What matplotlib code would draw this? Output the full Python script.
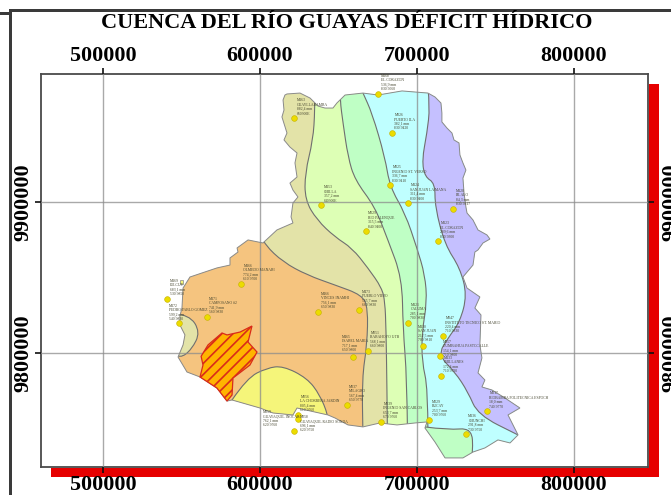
import numpy as np
from matplotlib import pyplot as plt
from matplotlib.patches import Polygon, Rectangle, PathPatch
from matplotlib.path import Path

## All map values are UTM km (easting, northing)

xtick_values = [500, 600, 700, 800]
ytick_values = [9800, 9900]

basin_e = [617.2, 625.5, 631.9, 637, 641.4, 646.5, 649, 654.2, 665.6, 675.2, 690.5, 707, 711.5, 715.3, 715.9, 715.9, 719.1, 722.3, 723.6, 726.8, 727.4, 729.3, 731.2, 729.3, 730, 731.2, 731.9, 735.7, 738.9, 744.6, 746.5, 742.1, 738.9, 736.9, 735.7, 729.3, 731.9, 740.1, 736.9, 740.8, 740.1, 741.4, 738.9, 743.3, 741.4, 747.8, 756.1, 765.6, 758, 764.4, 759.3, 751.6, 743.3, 735.7, 729.3, 717.9, 711.5, 705.1, 706.4, 698.7, 687.3, 676.4, 665.6, 656.1, 647.8, 643.3, 623.6, 621, 608.3, 600, 582.2, 579, 572.6, 561.8, 553.5, 547.8, 551, 552.2, 549, 549, 550.3, 551, 555.4, 572.6, 580.9, 580.9, 586, 585.4, 592.4, 601.9, 610.8, 621, 619.8, 621, 624.2, 621, 619.1, 623.6, 622.3, 623.6, 619.1, 615.3, 617.2, 614, 615.3, 614.7, 615.9]
basin_n = [9971.4, 9972, 9968.7, 9963.4, 9962.1, 9962.1, 9965.4, 9970.7, 9972, 9970.7, 9973.4, 9972, 9969.4, 9965.4, 9958.8, 9952.9, 9948.9, 9945.6, 9941, 9939, 9931, 9925.8, 9921.1, 9915.8, 9905.9, 9896.7, 9892.7, 9888.1, 9881.5, 9878.2, 9875.5, 9872.9, 9868.3, 9866.9, 9858.3, 9850.4, 9843.1, 9837.2, 9829.9, 9825.3, 9805.5, 9796.9, 9787, 9782.3, 9777.7, 9775.7, 9770.4, 9763.8, 9759.2, 9746, 9740.7, 9742.7, 9737.4, 9734.7, 9730.8, 9730.8, 9741.3, 9750.6, 9754.6, 9753.9, 9752.6, 9753.9, 9751.3, 9752.6, 9757.2, 9759.2, 9763.8, 9759.2, 9760.5, 9763.8, 9769.1, 9768.4, 9777, 9784.3, 9787.6, 9797.5, 9805.5, 9812.1, 9818.7, 9824.6, 9829.9, 9843.1, 9850.4, 9856.4, 9858.3, 9863, 9866.9, 9869.6, 9874.9, 9872.9, 9881.5, 9886.1, 9890.1, 9899.3, 9903.3, 9907.9, 9912.5, 9916.5, 9925.8, 9932.4, 9936.3, 9941, 9945.6, 9956.2, 9960.8, 9967.4, 9970.7]

# isolines between the deficit zones, north to south
line_a_e = [635, 635, 633.8, 628.7, 628.7, 636.3, 647.8, 658.6, 668.8, 677.7, 679.6, 680.3, 680.9, 681.5]
line_a_n = [9975, 9960.8, 9941, 9919.1, 9901.3, 9888.1, 9876.8, 9869.6, 9856.4, 9843.1, 9833.9, 9816.7, 9777, 9715]
line_b_e = [651, 651, 652.9, 656.1, 660.5, 673.3, 681.5, 690.5, 691.1, 693.6, 694.3]
line_b_n = [9975, 9967.4, 9952.2, 9929.7, 9914.5, 9896.7, 9874.9, 9849.7, 9816.7, 9783.6, 9715]
line_c_e = [664.3, 665.6, 671.4, 679.6, 682.8, 692.4, 700, 705.1, 706.4, 703.2, 703.2, 707, 707]
line_c_n = [9975.3, 9972, 9958.8, 9929.7, 9909.9, 9892.7, 9869.6, 9851.7, 9833.9, 9814, 9794.2, 9777, 9715]
line_d_e = [707, 708.3, 706.4, 703.2, 705.1, 711.5, 711.5, 717.9, 727.4, 731.9, 727.4, 719.8, 713.4, 724.2, 732.5, 738.9, 764.4, 772]
line_d_n = [9975.3, 9962.8, 9945.6, 9927.7, 9916.5, 9912.5, 9896.7, 9871.6, 9856.4, 9838.5, 9820.7, 9810.1, 9798.9, 9787.6, 9774.4, 9759.2, 9746, 9742]

orange_e = [601.3, 603.2, 614.7, 630, 647.8, 665, 668.8, 668.2, 665, 665.6, 470, 470]
orange_n = [9876.2, 9871.6, 9860.3, 9851.7, 9845.1, 9838.5, 9829.9, 9805.5, 9783.6, 9746, 9746, 9876]
yellow_e = [582.2, 591.7, 604.5, 614.7, 630, 638.2, 643.3, 644.6, 580.9]
yellow_n = [9769.1, 9783.6, 9790.3, 9791.6, 9783.6, 9772.4, 9759.2, 9749.3, 9749.3]
west_e = [544.6, 555, 562, 556.5, 549, 542.7]
west_n = [9826.5, 9825.5, 9814, 9802.5, 9796.5, 9802.1]
south_e = [705.1, 719.8, 735, 735.7, 733.8, 702]
south_n = [9751.3, 9749.3, 9750.6, 9734.7, 9722.8, 9722.8]
islet_e = [549, 550.9, 550.9, 549]
islet_n = [9848.4, 9848.4, 9845.8, 9845.8]
guayaquil_e = [594.9, 592.4, 598.1, 593.6, 582.8, 582.2, 579, 572.6, 561.8, 563.7, 562.5, 566.9, 575.8, 579, 587.3]
guayaquil_n = [9818, 9807.4, 9800.8, 9792.2, 9783.6, 9772.4, 9768.4, 9777, 9784.3, 9792.2, 9798, 9805.5, 9813.4, 9812.1, 9814]

station_e = [621.7, 638.9, 675.2, 684.1, 682.8, 694.3, 723, 667.5, 713.4, 587.9, 540.8, 566.2, 548.4, 637, 624.2, 624.2, 621.7, 663.1, 694.3, 716.6, 703.8, 714.7, 668.8, 659.3, 715.3, 655.4, 744.6, 707.7, 677.1, 731.2]
station_n = [9955.5, 9898, 9971.4, 9945.6, 9911.2, 9899.3, 9895.4, 9880.8, 9874.2, 9845.8, 9835.9, 9824, 9820, 9827.3, 9759.2, 9756.5, 9748.6, 9828.6, 9820, 9811.4, 9804.8, 9798.2, 9801.5, 9797.5, 9785, 9765.8, 9761.8, 9755.9, 9754.6, 9746.6]
station_code = ['M163', 'M153', 'M168', 'M026', 'M025', 'M124', 'M120', 'M029', 'M123', 'M166', 'M169', 'M171', 'M172', 'M466', 'M056', 'M059', 'M058', 'M473', 'M121', 'M047', 'M130', 'M057', 'M051', 'M465', 'M133', 'M037', 'M217', 'M229', 'M039', 'M136']
station_name = ['GUAYLLABAMBA', 'CHILLA', 'EL CORAZON', 'PUERTO ILA', 'INGENIO ST. VERSO', 'SAN JUAN LA MANA', 'PILALO', 'RIO PALENQUE', 'EL CORAZON', 'OLMEDO MANABI', 'JULCUY', 'CAMPOSANO #2', 'PEDRO PABLO GOMEZ', 'VINCES INAMHI', 'LA CHORRERA JARDIN', 'GUAYAQUIL INOCAR', 'GUAYAQUIL RADIO SONDA', 'PUEBLO VIEJO', 'CALUMA', 'INSTITUTO TECNICO ST. MARIO', 'SAN JUAN', 'ZUMBAHUA PASTOCALLE', 'BABAHOYO UTB', 'ISABEL MARIA', 'CHILLANES', 'MILAGRO', 'RIOBAMBA POLITECNICA ESPOCH', 'BUCAY', 'INGENIO SAN CARLOS', 'CHUNCHI']
station_mm = ['882,4', '357,2', '536,9', '382,1', '336,7', '311,4', '84,3', '315,5', '289,6', '774,2', '683,1', '741,9', '599,2', '756,1', '805,4', '762,1', '696,1', '565,7', '285,1', '220,4', '212,5', '154,1', '568,1', '717,1', '172,4', '567,4', '18,0', '253,7', '653,7', '291,8']
station_utm = ['660300E', '640300E', '830 9560', '830 9420', '830 9410', '830 9400', '830 9317', '840 9400', '830 9300', '610 9700', '530 9850', '560 9830', '540 9830', '650 9830', '610 9760', '620 9760', '620 9750', '660 9830', '700 9830', '710 9830', '700 9810', '710 9800', '660 9800', '650 9800', '710 9790', '650 9770', '740 9770', '700 9760', '670 9760', '730 9750']

# stations whose label does not sit up and right of the dot
label_shift = {12: (-10, 2), 15: (-35, -8), 16: (6, -1), 20: (-5, 4), 23: (-11, 5), 21: (3, -1)}

frame_labels = ['572000', '648000', '724000']

PX = 72 / 100  # one pixel in points at this dpi

plt.rcParams['font.family'] = ['Liberation Serif', 'DejaVu Serif']
plt.rcParams['hatch.linewidth'] = 1.2

fig = plt.figure(figsize=(6.71, 4.95), dpi=100, facecolor='white')

## Page furniture in pixel coordinates
bg = fig.add_axes([0, 0, 1, 1])
bg.set_xlim(0, 671)
bg.set_ylim(495, 0)
bg.axis('off')
bg.add_patch(Rectangle((8.5, 8.5), 663, 3.5, color='#3a3a3a', lw=0))
bg.add_patch(Rectangle((8.5, 8.5), 3.5, 487, color='#3a3a3a', lw=0))
bg.add_patch(Rectangle((0, 12), 8.5, 3, color='#3a3a3a', lw=0))
bg.add_patch(Rectangle((51, 468), 608, 9, color='#e60000', lw=0))
bg.add_patch(Rectangle((648.5, 84), 10, 393, color='#e60000', lw=0))
for x, txt in zip([164, 356, 549], frame_labels):
    bg.text(x, 2.5, txt, ha='center', va='bottom', fontsize=9, color='#333333', fontweight='bold')
bg.text(347, 23.5, 'CUENCA DEL RÍO GUAYAS DÉFICIT HÍDRICO', ha='center', va='center', fontsize=16, fontweight='bold', color='black')

## Map frame
ax = fig.add_axes([41 / 671, (495 - 467) / 495, 607 / 671, 393 / 495])
ax.set_xlim(460.5, 847.2)
ax.set_ylim(9724.8, 9984.6)

basin = Polygon(np.column_stack([basin_e, basin_n]), closed=True, facecolor='#e3e3a8', edgecolor='none', zorder=1)
ax.add_patch(basin)

def rounded_path(line_e, line_n, extra=()):
    # quadratic curve through the read points, straight on to the extra corners
    pts = list(zip(line_e, line_n))
    verts = [pts[0]]
    codes = [Path.MOVETO]
    for i in range(1, len(pts) - 1):
        mid = ((pts[i][0] + pts[i + 1][0]) / 2, (pts[i][1] + pts[i + 1][1]) / 2)
        verts += [pts[i], mid]
        codes += [Path.CURVE3, Path.CURVE3]
    verts.append(pts[-1])
    codes.append(Path.LINETO)
    for c in extra:
        verts.append(c)
        codes.append(Path.LINETO)
    verts.append(pts[0])
    codes.append(Path.CLOSEPOLY)
    return Path(verts, codes)

zones = [
    (rounded_path(line_a_e, line_a_n, [(900, line_a_n[-1]), (900, line_a_n[0])]), '#ddffb5'),
    (rounded_path(line_b_e, line_b_n, [(900, line_b_n[-1]), (900, line_b_n[0])]), '#bfffc5'),
    (rounded_path(line_c_e, line_c_n, [(900, line_c_n[-1]), (900, line_c_n[0])]), '#bfffff'),
    (rounded_path(line_d_e, line_d_n, [(900, line_d_n[-1]), (900, line_d_n[0])]), '#c5c0ff'),
    (rounded_path(south_e, south_n), '#bfffc5'),
    (rounded_path(orange_e[:-2], orange_n[:-2], list(zip(orange_e[-2:], orange_n[-2:]))), '#f5c47f'),
    (rounded_path(yellow_e[:-1], yellow_n[:-1], [(yellow_e[-1], yellow_n[-1])]), '#f5f57a'),
    (rounded_path(west_e, west_n), '#e3e3a8'),
]
for zone_path, col in zones:
    p = PathPatch(zone_path, facecolor=col, edgecolor='#6f6f6f', lw=0.8, zorder=2)
    ax.add_patch(p)
    p.set_clip_path(basin)

ax.add_patch(Polygon(np.column_stack([basin_e, basin_n]), closed=True, fill=False, edgecolor='#8a8a8a', lw=0.7, zorder=3))
ax.add_patch(Polygon(np.column_stack([islet_e, islet_n]), closed=True, facecolor='#f5f57a', edgecolor='#8a8a8a', lw=0.5, zorder=3))

ax.add_patch(Polygon(np.column_stack([guayaquil_e, guayaquil_n]), closed=True, facecolor='#ffb400', edgecolor='#d92b1a', hatch='///', lw=0.9, zorder=4))

## Grid and ticks
ax.set_xticks(xtick_values)
ax.set_yticks(ytick_values)
ax.set_xticklabels([str(v * 1000) for v in xtick_values])
ax.set_yticklabels([str(v * 1000) for v in ytick_values], rotation=90, va='center')
ax.grid(True, color='#8c8c8c', lw=1, alpha=0.75, zorder=5)
ax.set_axisbelow(False)
ax.tick_params(axis='x', top=True, bottom=True, labeltop=True, labelbottom=True, direction='out', length=6 * PX, width=1.2, color='#111111', labelsize=15.8, pad=1.5)
ax.tick_params(axis='y', left=True, right=False, labelleft=True, direction='out', length=6 * PX, width=1.2, color='#111111', labelsize=15.8, pad=1.5)
for lab in ax.get_xticklabels() + ax.get_yticklabels():
    lab.set_fontweight('bold')
for side in ax.spines.values():
    side.set_color('#4a4a4a')
    side.set_linewidth(1.3)

# the right hand labels sit further out, past the red band
sec = ax.secondary_yaxis('right')
sec.set_yticks(ytick_values)
sec.set_yticklabels([str(v * 1000) for v in ytick_values], rotation=90, va='center', fontweight='bold')
sec.tick_params(direction='out', length=6 * PX, width=1.2, color='#111111', labelsize=15.8, pad=5.5)
sec.spines['right'].set_visible(False)

## Stations
ax.scatter(station_e, station_n, s=17, color='#ecdc00', edgecolor='#c4b000', linewidth=0.4, zorder=6, clip_on=False)
for i in range(len(station_e)):
    dx, dy = label_shift.get(i, (2.5, 2.5))
    txt = station_code[i] + '\n' + station_name[i] + '\n' + station_mm[i] + ' mm\n' + station_utm[i]
    ax.annotate(txt, (station_e[i], station_n[i]), xytext=(dx * PX, dy * PX), textcoords='offset points', ha='left', va='bottom', fontsize=2.7, linespacing=1.15, color='#45452f', zorder=7)

fig.savefig('out.png', dpi=100)
